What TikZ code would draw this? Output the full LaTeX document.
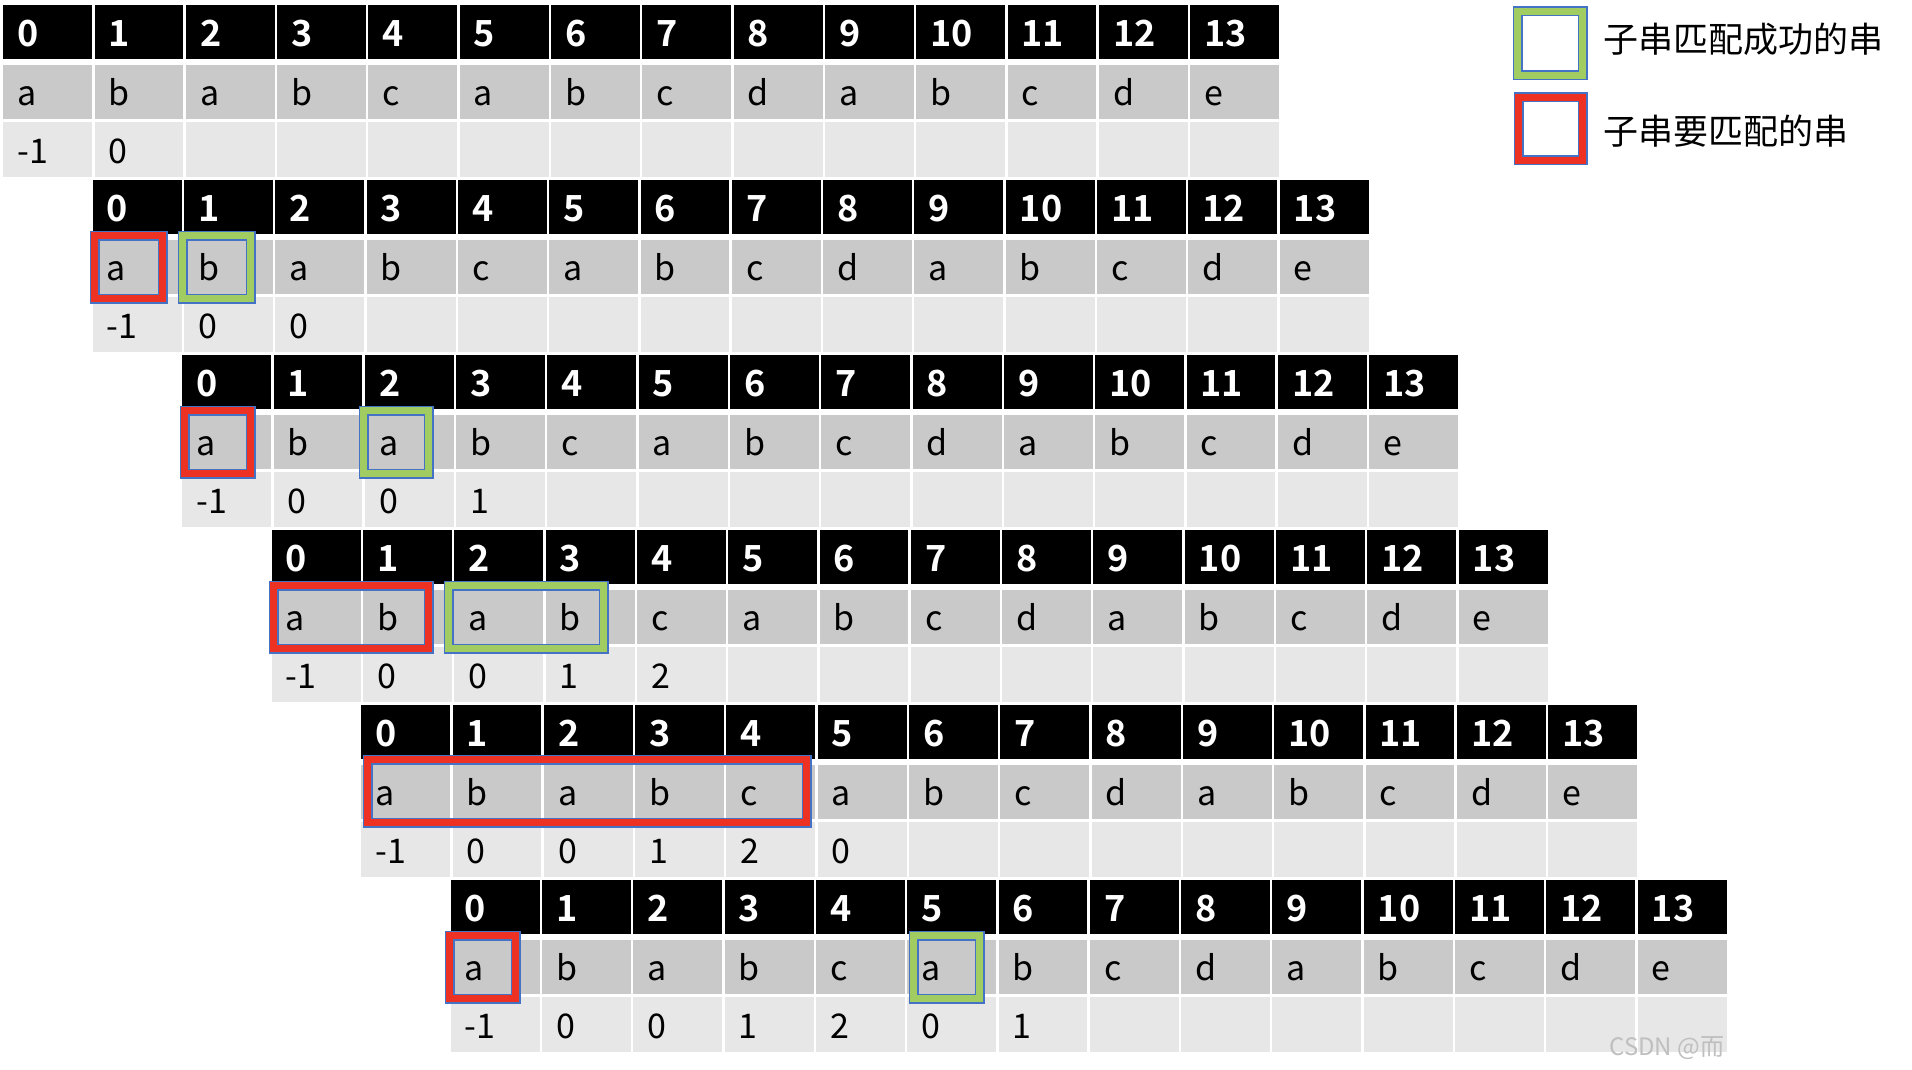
\documentclass[tikz,border=0pt]{standalone}
\usepackage{fontspec}
\setmainfont{Noto Sans CJK SC}[BoldFont={Noto Sans CJK SC Bold}]
\definecolor{rowgray}{RGB}{201,201,201}
\definecolor{rowlight}{RGB}{231,231,231}
\definecolor{boxred}{RGB}{237,50,36}
\definecolor{boxgreen}{RGB}{160,204,98}
\definecolor{boxblue}{RGB}{68,114,196}
\tikzset{
  idxtext/.style={anchor=base west, inner sep=0pt, text=white, font=\fontsize{18}{18}\selectfont\bfseries},
  chtext/.style={anchor=base west, inner sep=0pt, font=\fontsize{17}{17}\selectfont},
  legtext/.style={anchor=west, inner sep=0pt, font=\fontsize{17.5}{17.5}\selectfont},
  redbox/.style={draw=boxblue, line width=0.75pt, double=boxred, double distance=3.5pt},
  greenbox/.style={draw=boxblue, line width=0.75pt, double=boxgreen, double distance=3.5pt},
}
\begin{document}
\begin{tikzpicture}[x=0.5pt, y=-0.5pt]
    \useasboundingbox (0,0) rectangle (1912,1070);
    \def\cw{91.3}
    % six shifted copies of the table
    \foreach \t/\vals in {0/{-1,0}, 1/{-1,0,0}, 2/{-1,0,0,1}, 3/{-1,0,0,1,2}, 4/{-1,0,0,1,2,0}, 5/{-1,0,0,1,2,0,1}} {
        \pgfmathsetmacro{\lx}{2+89.5*\t}
        \pgfmathsetmacro{\ty}{5+175*\t}
        \foreach \ch [count=\c from 0] in {a,b,a,b,c,a,b,c,d,a,b,c,d,e} {
            \pgfmathsetmacro{\xa}{\lx+\c*\cw}
            \pgfmathsetmacro{\xb}{\xa+\cw}
            % index, string, next rows
            \fill[black] (\xa+1.2,\ty) rectangle (\xb-1.2,\ty+54);
            \fill[rowgray] (\xa+1.2,\ty+60) rectangle (\xb-1.2,\ty+114);
            \fill[rowlight] (\xa+1.2,\ty+117) rectangle (\xb-1.2,\ty+172);
            \node[idxtext] (h\t-\c) at (\xa+15,\ty+41.5) {\c};
            \node[chtext] (s\t-\c) at (\xa+15,\ty+100) {\ch};
        }
        \foreach \v [count=\k from 0] in \vals {
            \node[chtext] (n\t-\k) at (\lx+\k*\cw+15,\ty+158.5) {\v};
        }
    }

    % matching boxes
    \draw[redbox] (94.5,235.5) rectangle (162.5,298.5);
    \draw[greenbox] (182.5,235.5) rectangle (250.5,298.5);

    \draw[redbox] (184.5,410.5) rectangle (250.5,473.5);
    \draw[greenbox] (363.5,410.5) rectangle (428.5,473.5);

    \draw[redbox] (273.5,585.5) rectangle (428.5,648.5);
    \draw[greenbox] (448.5,585.5) rectangle (603.5,648.5);

    \draw[redbox] (367.5,759.5) rectangle (806.5,822.5);

    \draw[redbox] (449.5,935.5) rectangle (515.5,998.5);
    \draw[greenbox] (913.5,935.5) rectangle (979.5,998.5);

    % legend
    \draw[greenbox, fill=white] (1517.5,11.5) rectangle (1582.5,75.5);
    \node[legtext] (leg1) at (1603,39) {子串匹配成功的串};
    \draw[redbox, fill=white] (1518.5,97.5) rectangle (1582.5,160.5);
    \node[legtext] (leg2) at (1603,131) {子串要匹配的串};

    \node[anchor=base west, inner sep=0pt, text=gray!50, font=\fontsize{12}{12}\selectfont] (mark) at (1609,1055) {CSDN @而};
\end{tikzpicture}
\end{document}
